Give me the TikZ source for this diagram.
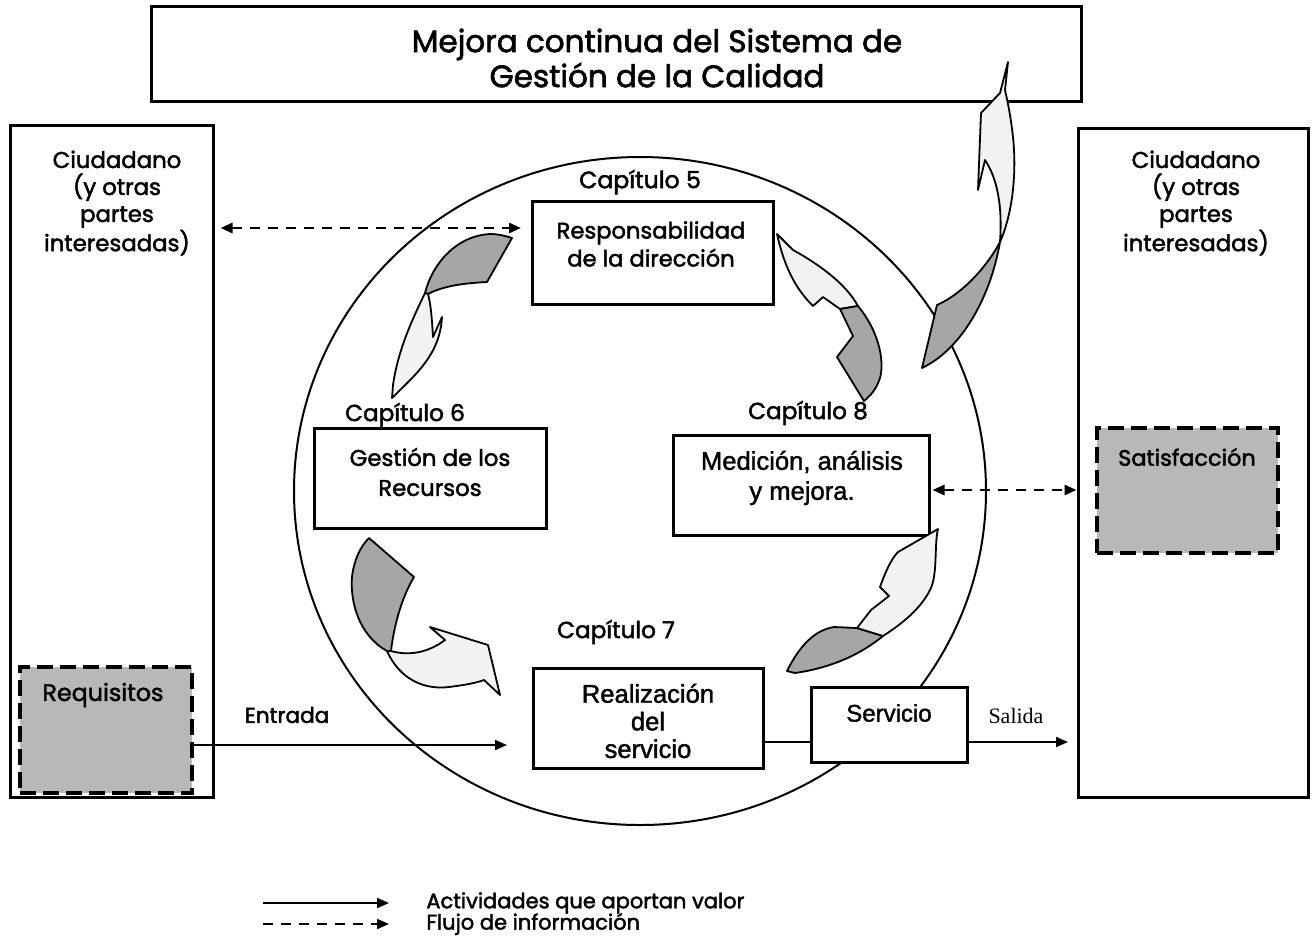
\documentclass[tikz,border=0pt]{standalone}
\usepackage{fontspec}
\usetikzlibrary{arrows.meta}
\setmainfont{Poppins}
\newfontfamily\cg{Poppins}[FakeBold=2]
\newfontfamily\ar{Liberation Sans}[FakeBold=1.5]
\newfontfamily\tm{Liberation Serif}
\tikzset{
 box/.style={draw, line width=1.5pt, fill=white, inner sep=0pt},
 panel/.style={draw, line width=1.5pt, inner sep=0pt},
 dbox/.style={draw, line width=2pt, dash pattern=on 8pt off 3.5pt, fill=black!28, inner sep=0pt},
 lbl/.style={font=\cg\fontsize{11.4}{13.5}\selectfont, align=center, inner sep=0pt},
 leglbl/.style={font=\cg\fontsize{10.5}{13}\selectfont, inner sep=0pt},
 alb/.style={font=\ar\fontsize{12.8}{15}\selectfont, align=center, inner sep=0pt},
 flow/.style={line width=1pt, -{Triangle[length=6pt,width=5pt]}},
 plain/.style={line width=1pt},
 info/.style={line width=1.4pt, dash pattern=on 5pt off 4pt},
 darkpart/.style={draw, line width=0.9pt, fill=black!35, line join=round},
 lightpart/.style={draw, line width=0.9pt, fill=black!5, line join=round},
}
\begin{document}
\begin{tikzpicture}[x=0.5pt,y=-0.5pt]
\useasboundingbox (0,0) rectangle (1314,950);
\fill[white] (0,0) rectangle (1314,950);

% title
\node[box, minimum width=465pt, minimum height=47.5pt] (title) at (616,53.5) {};
\node[lbl, font=\cg\fontsize{15.5}{17.5}\selectfont] (titletext) at (657,58) {Mejora continua del Sistema de\\Gesti\'on de la Calidad};

% panels
\node[panel, minimum width=101.5pt, minimum height=336pt] (lp) at (111.5,461) {};
\node[panel, minimum width=115pt, minimum height=334.5pt] (rp) at (1193,462.5) {};
\node[lbl] (lptext) at (117,203) {Ciudadano\\(y otras\\partes\\interesadas)};
\node[lbl] (rptext) at (1196,203) {Ciudadano\\(y otras\\partes\\interesadas)};

\node[dbox, minimum width=86pt, minimum height=63pt] (req) at (106,730) {};
\node[lbl, font=\cg\fontsize{11.9}{13.5}\selectfont] (reqtext) at (103,695) {Requisitos};
\node[dbox, minimum width=90.5pt, minimum height=62.5pt] (sat) at (1187.5,490.5) {};
\node[lbl, font=\cg\fontsize{11.2}{13.5}\selectfont] (sattext) at (1187,457) {Satisfacci\'on};

% circle
\draw[line width=1pt] (640,491) ellipse [x radius=173pt, y radius=167pt];

% process boxes
\node[box, minimum width=120.5pt, minimum height=51.5pt] (resp) at (652.5,252.5) {};
\node[lbl, font=\cg\fontsize{11.3}{14}\selectfont] (resptext) at (651,244) {Responsabilidad\\de la direcci\'on};
\node[box, minimum width=116pt, minimum height=50pt] (gest) at (430,478) {};
\node[lbl, font=\cg\fontsize{11.4}{15}\selectfont] (gesttext) at (430,472) {Gesti\'on de los\\Recursos};
\node[box, minimum width=128pt, minimum height=50pt] (med) at (801,485) {};
\node[alb, font=\ar\fontsize{12.8}{15}\selectfont] (medtext) at (802,478) {Medici\'on, an\'alisis\\y mejora.};
\node[box, minimum width=115pt, minimum height=50pt] (real) at (648,718) {};
\node[alb, font=\ar\fontsize{12.8}{13.8}\selectfont] (realtext) at (648,721) {Realizaci\'on\\del\\servicio};
\node[box, minimum width=78pt, minimum height=37.5pt] (serv) at (889,724.5) {};
\node[alb, font=\ar\fontsize{12}{14}\selectfont] (servtext) at (889,713) {Servicio};

% chapter labels
\node[lbl, font=\cg\fontsize{11.8}{13.5}\selectfont] (c5) at (640,182) {Cap\'itulo 5};
\node[lbl, font=\cg\fontsize{11.6}{13.5}\selectfont] (c6) at (405,415) {Cap\'itulo 6};
\node[lbl, font=\cg\fontsize{11.6}{13.5}\selectfont] (c7) at (616,632) {Cap\'itulo 7};
\node[lbl, font=\cg\fontsize{11.6}{13.5}\selectfont] (c8) at (808,413) {Cap\'itulo 8};

% connectors
\coordinate (lvl) at (700,742);
\coordinate (entr) at (507,745);
\coordinate (sal) at (1068,742);
\coordinate (dtop) at (521,228);
\coordinate (dright) at (1000,490);
\draw[flow] (req.east |- entr) -- (entr);
\node[lbl, font=\cg\fontsize{10.8}{13}\selectfont] (entrtext) at (287,715) {Entrada};
\draw[plain] (real.east |- lvl) -- (serv.west |- lvl);
\draw[flow] (serv.east |- lvl) -- (sal);
\node[font=\tm\fontsize{11}{13}\selectfont, inner sep=0pt] (saltext) at (1016,716) {Salida};
\draw[info, {Triangle[length=6pt,width=5pt]}-{Triangle[length=6pt,width=5pt]}, shorten <=3pt] (lp.east |- dtop) -- (dtop);
\draw[info, {Triangle[length=6pt,width=5pt]}-{Triangle[length=6pt,width=5pt]}, shorten <=1pt] (med.east |- dright) -- (rp.west |- dright);

% curved arrows
% A: direccion -> recursos
\path[darkpart] (425,293) .. controls (432,265) and (455,236) .. (490,234) .. controls (498,234) and (506,236) .. (512,238) -- (487,282) .. controls (468,283) and (445,285) .. (428,294) -- cycle;
\path[lightpart] (425,293) .. controls (412,320) and (398,350) .. (393,385) -- (392,398) .. controls (415,375) and (440,355) .. (442,317) -- (433,337) .. controls (432,320) and (431,305) .. (428,294) -- cycle;
% B: direccion -> medicion
\path[lightpart] (777,234) -- (793,250) .. controls (815,262) and (845,282) .. (858,306) -- (840,309) -- (823,297) -- (813,306) .. controls (797,290) and (785,270) .. (777,234) -- cycle;
\path[darkpart] (840,309) -- (858,306) .. controls (878,330) and (885,360) .. (880,378) .. controls (876,390) and (870,396) .. (864,401) -- (837,357) -- (853,336) -- cycle;
% C: recursos -> realizacion
\path[darkpart] (369,538) -- (414,577) .. controls (402,597) and (394,625) .. (391,651) -- (387,651) .. controls (358,635) and (350,600) .. (352,577) .. controls (354,560) and (360,547) .. (369,538) -- cycle;
\path[lightpart] (387,651) .. controls (400,680) and (425,690) .. (449,687) .. controls (465,685) and (476,683) .. (484,680) -- (500,695) -- (488,645) -- (430,627) -- (445,640) .. controls (425,655) and (405,655) .. (391,651) -- cycle;
% D: realizacion -> medicion
\path[darkpart] (787,671) .. controls (800,645) and (815,630) .. (834,627) -- (857,628) -- (883,636) .. controls (860,655) and (830,668) .. (795,673) -- cycle;
\path[lightpart] (857,628) -- (871,610) -- (889,596) -- (880,587) .. controls (886,570) and (892,558) .. (898,552) -- (938,529) .. controls (934,545) and (938,575) .. (930,590) .. controls (920,610) and (900,625) .. (883,636) -- cycle;
% E: medicion -> mejora continua
\path[darkpart] (1000,242) .. controls (990,300) and (960,350) .. (922,368) -- (937,305) .. controls (960,295) and (985,270) .. (1000,242) -- cycle;
\path[lightpart] (1008,62) -- (1000,93) -- (981,113) -- (978,190) -- (985,160) .. controls (995,175) and (1003,200) .. (1000,242) .. controls (1012,215) and (1017,175) .. (1013,137) .. controls (1010,110) and (1006,95) .. (1005,90) -- cycle;

% legend
\coordinate (l1a) at (263,903);
\coordinate (l1b) at (389,903);
\coordinate (l2a) at (263,924);
\coordinate (l2b) at (389,924);
\draw[flow] (l1a) -- (l1b);
\draw[info, line width=1pt, -{Triangle[length=6pt,width=5pt]}] (l2a) -- (l2b);
\node[leglbl, anchor=west] (leg1) at (426,903) {Actividades que aportan valor};
\node[leglbl, anchor=west] (leg2) at (426,924) {Flujo de informaci\'on};
\end{tikzpicture}
\end{document}
